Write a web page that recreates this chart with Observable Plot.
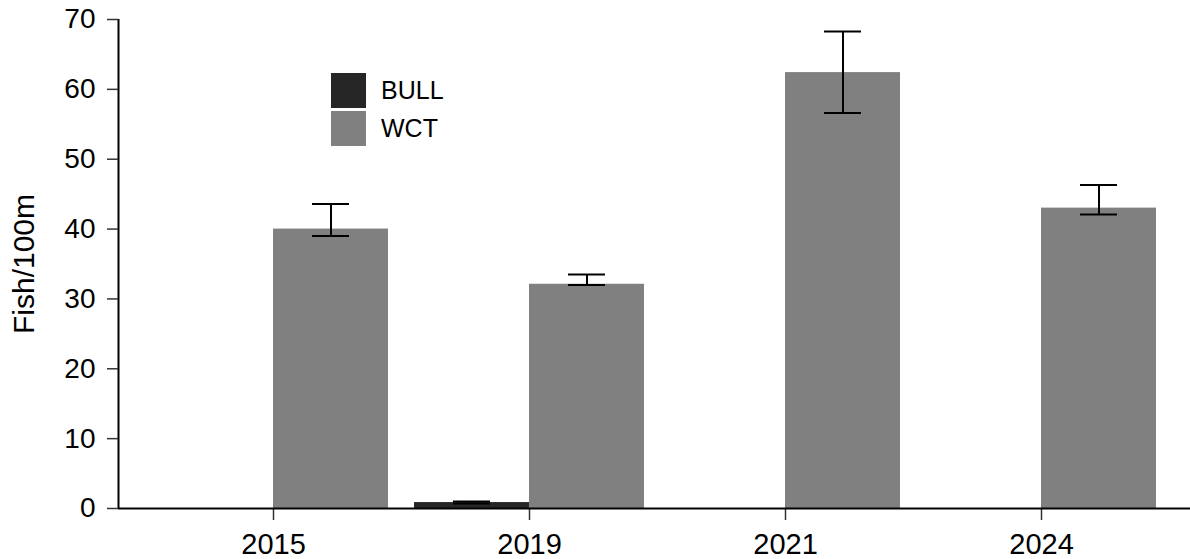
<!DOCTYPE html>
<html>
<head>
<meta charset="utf-8">
<script src="https://cdn.jsdelivr.net/npm/d3@7"></script>
<script src="https://cdn.jsdelivr.net/npm/@observablehq/plot@0.6"></script>
<style>
  html, body { margin: 0; padding: 0; background: #fff; }
  #wrap { position: relative; width: 1190px; height: 559px; font-family: "Liberation Sans", Arial, sans-serif; }
  #wrap svg { position: absolute; left: 0; top: 0; }
  #legend { position: absolute; left: 331px; top: 73px; }
  .row { display: flex; align-items: center; height: 35px; margin-bottom: 3px; }
  .sw { width: 35px; height: 35px; }
  .lab { margin-left: 15px; font-size: 25px; color: #000; }
</style>
</head>
<body>
<div id="wrap"><div id="legend"></div></div>
<script>
const years = ["2015", "2019", "2021", "2024"];
const species = ["BULL", "WCT"];
const colors = ["#262626", "#808080"];
const bullMean = [0, 0.85, 0, 0];
const bullLo = [null, 0.7, null, null];
const bullHi = [null, 1.0, null, null];
const wctMean = [40.0, 32.1, 62.4, 43.0];
const wctLo = [39.0, 32.0, 56.6, 42.1];
const wctHi = [43.6, 33.5, 68.3, 46.3];
const yTicks = [0, 10, 20, 30, 40, 50, 60, 70];
const yLabel = "Fish/100m";

const rows = [];
years.forEach((yr, i) => {
  rows.push({year: yr, species: "BULL", value: bullMean[i], lo: bullLo[i], hi: bullHi[i]});
  rows.push({year: yr, species: "WCT", value: wctMean[i], lo: wctLo[i], hi: wctHi[i]});
});
const err = rows.filter(d => d.hi != null);

const font = '"Liberation Sans", Arial, sans-serif';
const frameOpts = {
  width: 1190,
  height: 559,
  marginLeft: 118,
  marginRight: 0,
  marginTop: 19,
  marginBottom: 51
};

// Main faceted chart: bars, error bars and the year axis
const chart = Plot.plot({
  ...frameOpts,
  style: {fontFamily: font, fontSize: "29px", color: "#000", background: "transparent"},
  fx: {domain: years, paddingInner: 0.1, paddingOuter: 0.1414, align: 0.546},
  x: {domain: species, padding: 0, axis: null},
  y: {domain: [0, 70], axis: null},
  color: {domain: species, range: colors},
  marks: [
    Plot.barY(rows, {fx: "year", x: "species", y: "value", fill: "species"}),
    Plot.ruleX(err, {fx: "year", x: "species", y1: "lo", y2: "hi", stroke: "#000", strokeWidth: 2}),
    Plot.tickY(err, {fx: "year", x: "species", y: "hi", stroke: "#000", strokeWidth: 2, insetLeft: 39, insetRight: 39}),
    Plot.tickY(err, {fx: "year", x: "species", y: "lo", stroke: "#000", strokeWidth: 2, insetLeft: 39, insetRight: 39}),
    Plot.axisFx({anchor: "bottom", tickSize: 12, tickPadding: 13, fontSize: 29, label: null, stroke: "#333", strokeWidth: 1.5})
  ]
});

// Overlay: value axis and the two axis lines over the whole frame
const overlay = Plot.plot({
  ...frameOpts,
  style: {fontFamily: font, fontSize: "29px", color: "#000", background: "transparent", pointerEvents: "none"},
  x: {domain: [0, 1], axis: null},
  y: {domain: [0, 70]},
  marks: [
    Plot.ruleY([0], {stroke: "#000", strokeWidth: 2}),
    Plot.ruleX([0], {stroke: "#000", strokeWidth: 2}),
    Plot.axisY({anchor: "left", ticks: yTicks, tickSize: 11, tickPadding: 12, fontSize: 28,
      label: null, stroke: "#333", strokeWidth: 1.5}),
    Plot.axisY({anchor: "left", ticks: [], tickSize: 0, fontSize: 30,
      label: yLabel, labelAnchor: "center", labelArrow: "none", labelOffset: 106})
  ]
});

const wrap = document.getElementById("wrap");
wrap.insertBefore(overlay, wrap.firstChild);
wrap.insertBefore(chart, wrap.firstChild);

const legend = document.getElementById("legend");
species.forEach((s, i) => {
  const row = document.createElement("div");
  row.className = "row";
  const sw = document.createElement("div");
  sw.className = "sw";
  sw.style.background = colors[i];
  const lab = document.createElement("span");
  lab.className = "lab";
  lab.textContent = s;
  row.appendChild(sw);
  row.appendChild(lab);
  legend.appendChild(row);
});
</script>
</body>
</html>
